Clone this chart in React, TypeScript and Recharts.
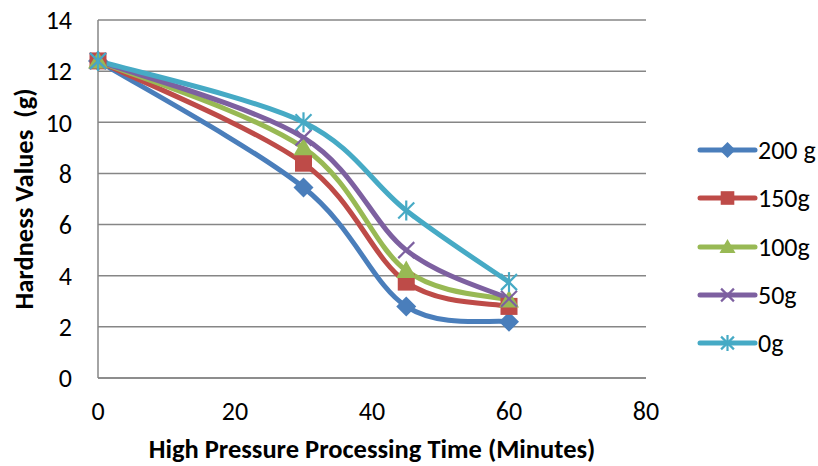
import * as React from 'react'
import { LineChart, Line, XAxis, YAxis, CartesianGrid, Legend, Label } from 'recharts'

// Processing time (minutes) and hardness readings per sample weight
const TIMES = [0, 30, 45, 60]
const G200 = [12.4, 7.45, 2.8, 2.2]
const G150 = [12.4, 8.4, 3.75, 2.8]
const G100 = [12.4, 9.0, 4.2, 3.05]
const G50 = [12.4, 9.4, 5.0, 3.1]
const G0 = [12.4, 10.0, 6.55, 3.75]

const X_TICKS = [0, 20, 40, 60, 80]
const Y_TICKS = [0, 2, 4, 6, 8, 10, 12, 14]

const X_TITLE = 'High Pressure Processing Time (Minutes)'
const Y_TITLE = 'Hardness Values  (g)'

type MarkerKind = 'diamond' | 'square' | 'triangle' | 'cross' | 'star'

const SERIES: { key: string; name: string; color: string; marker: MarkerKind; values: number[] }[] = [
  { key: 'g200', name: '200 g', color: '#4A7EBB', marker: 'diamond', values: G200 },
  { key: 'g150', name: '150g', color: '#BE4B48', marker: 'square', values: G150 },
  { key: 'g100', name: '100g', color: '#98B954', marker: 'triangle', values: G100 },
  { key: 'g50', name: '50g', color: '#7D60A0', marker: 'cross', values: G50 },
  { key: 'g0', name: '0g', color: '#46AAC5', marker: 'star', values: G0 },
]

const data = TIMES.map((t, i) => {
  const row: Record<string, number> = { t }
  SERIES.forEach((s) => {
    row[s.key] = s.values[i]
  })
  return row
})

const FONT = "Carlito, 'Open Sans', sans-serif"
const GRID = '#868686'
const TICK_SIZE = 26
const TITLE_SIZE = 26.5

// Excel-like smoothed line (Catmull-Rom through the points)
const excelSmooth = (context: any) => {
  let pts: [number, number][] = []
  return {
    areaStart() {},
    areaEnd() {},
    lineStart() {
      pts = []
    },
    point(x: number, y: number) {
      pts.push([+x, +y])
    },
    lineEnd() {
      const n = pts.length
      if (!n) return
      context.moveTo(pts[0][0], pts[0][1])
      for (let i = 0; i < n - 1; i++) {
        const p0 = pts[Math.max(i - 1, 0)]
        const p1 = pts[i]
        const p2 = pts[i + 1]
        const p3 = pts[Math.min(i + 2, n - 1)]
        context.bezierCurveTo(
          p1[0] + (p2[0] - p0[0]) / 6,
          p1[1] + (p2[1] - p0[1]) / 6,
          p2[0] - (p3[0] - p1[0]) / 6,
          p2[1] - (p3[1] - p1[1]) / 6,
          p2[0],
          p2[1]
        )
      }
    },
  }
}

const Marker = ({ kind, cx, cy, color, r }: { kind: MarkerKind; cx: number; cy: number; color: string; r: number }) => {
  if (cx == null || cy == null) return null
  switch (kind) {
    case 'diamond':
      return <polygon points={`${cx},${cy - r} ${cx + r},${cy} ${cx},${cy + r} ${cx - r},${cy}`} fill={color} />
    case 'square':
      return <rect x={cx - r * 0.85} y={cy - r * 0.85} width={r * 1.7} height={r * 1.7} fill={color} />
    case 'triangle':
      return <polygon points={`${cx},${cy - r} ${cx + r},${cy + r * 0.75} ${cx - r},${cy + r * 0.75}`} fill={color} />
    case 'cross':
      return (
        <g stroke={color} strokeWidth={2.2}>
          <line x1={cx - r * 0.8} y1={cy - r * 0.8} x2={cx + r * 0.8} y2={cy + r * 0.8} />
          <line x1={cx - r * 0.8} y1={cy + r * 0.8} x2={cx + r * 0.8} y2={cy - r * 0.8} />
        </g>
      )
    case 'star':
      return (
        <g stroke={color} strokeWidth={2.2}>
          <line x1={cx - r * 0.8} y1={cy - r * 0.8} x2={cx + r * 0.8} y2={cy + r * 0.8} />
          <line x1={cx - r * 0.8} y1={cy + r * 0.8} x2={cx + r * 0.8} y2={cy - r * 0.8} />
          <line x1={cx} y1={cy - r} x2={cx} y2={cy + r} />
        </g>
      )
  }
  return null
}

const renderLegend = () => (
  <div style={{ fontFamily: FONT, fontSize: TICK_SIZE, color: '#000', lineHeight: 1 }}>
    {SERIES.map((s) => (
      <div key={s.key} style={{ height: 48.3, display: 'flex', alignItems: 'center' }}>
        <svg width={61} height={22} style={{ display: 'block' }}>
          <line x1={3} y1={11} x2={58} y2={11} stroke={s.color} strokeWidth={5} strokeLinecap="round" />
          <Marker kind={s.marker} cx={30.5} cy={11} color={s.color} r={8} />
        </svg>
        <span>{s.name}</span>
      </div>
    ))}
  </div>
)

export default function App() {
  return (
    <div style={{ position: 'absolute', left: 0, top: 0, width: 818, height: 466, background: '#fff' }}>
      <LineChart width={818} height={466} data={data} margin={{ top: 20, right: 172, left: 0, bottom: 0 }}>
        <CartesianGrid vertical={false} stroke={GRID} strokeWidth={1.5} />
        <XAxis
          dataKey="t"
          type="number"
          domain={[0, 80]}
          ticks={X_TICKS}
          height={88}
          axisLine={{ stroke: GRID, strokeWidth: 1.5 }}
          tickLine={false}
          tickMargin={18}
          tick={{ fill: '#000', fontSize: TICK_SIZE, fontFamily: FONT }}
        >
          <Label
            content={() => (
              <text x={372} y={458} textAnchor="middle" fill="#000" fontFamily={FONT} fontSize={TITLE_SIZE} fontWeight="bold">
                {X_TITLE}
              </text>
            )}
          />
        </XAxis>
        <YAxis
          type="number"
          domain={[0, 14]}
          ticks={Y_TICKS}
          width={98}
          axisLine={{ stroke: GRID, strokeWidth: 1.5 }}
          tickLine={false}
          tickMargin={20}
          tick={{ fill: '#000', fontSize: TICK_SIZE, fontFamily: FONT }}
        >
          <Label
            content={() => (
              <text
                x={24}
                y={199}
                transform="rotate(-90 24 199)"
                textAnchor="middle"
                dominantBaseline="central"
                fill="#000"
                fontFamily={FONT}
                fontSize={TITLE_SIZE}
                fontWeight="bold"
                style={{ whiteSpace: 'pre' }}
              >
                {Y_TITLE}
              </text>
            )}
          />
        </YAxis>
        <Legend
          layout="vertical"
          align="center"
          verticalAlign="middle"
          content={renderLegend}
          wrapperStyle={{ left: 697, top: 126, width: 121 }}
        />
        {SERIES.map((s) => (
          <Line
            key={s.key}
            dataKey={s.key}
            name={s.name}
            type={excelSmooth as any}
            stroke={s.color}
            strokeWidth={5}
            isAnimationActive={false}
            activeDot={false}
            dot={(p: any) => (
              <Marker key={`${s.key}-${p.index}`} kind={s.marker} cx={p.cx} cy={p.cy} color={s.color} r={10} />
            )}
          />
        ))}
      </LineChart>
    </div>
  )
}
